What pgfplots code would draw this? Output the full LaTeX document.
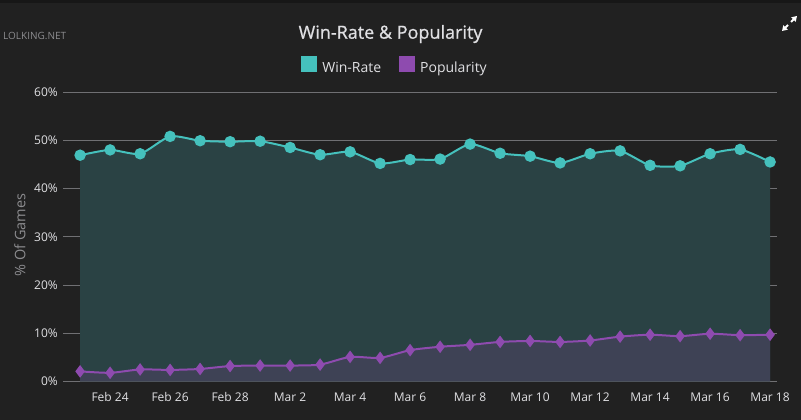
\documentclass[border=0pt]{standalone}
\usepackage{pgfplots}
\usepackage{pgfplotstable}
\pgfplotsset{compat=1.18}
\usepackage{fontspec}
\setmainfont{Open Sans}
\newfontfamily\titlefont[FakeBold=0.8]{Open Sans}
\usetikzlibrary{arrows.meta}
\definecolor{bgc}{HTML}{212121}
\definecolor{topc}{HTML}{171717}
\definecolor{gridc}{HTML}{707073}
\definecolor{wrc}{HTML}{45C1BD}
\definecolor{wrfill}{HTML}{2A4244}
\definecolor{popc}{HTML}{8E4BAF}
\definecolor{popfill}{HTML}{3E4255}
\definecolor{tickc}{HTML}{E0E0E3}
\definecolor{labc}{HTML}{8C8C8F}

\pgfplotstableread{
x y
0 46.9
1 48.0
2 47.2
3 50.8
4 49.9
5 49.7
6 49.8
7 48.5
8 47.0
9 47.6
10 45.2
11 46.0
12 46.1
13 49.2
14 47.3
15 46.7
16 45.3
17 47.2
18 47.8
19 44.8
20 44.7
21 47.2
22 48.1
23 45.5
}\winrate

\pgfplotstableread{
x y
0 2.1
1 1.8
2 2.5
3 2.4
4 2.6
5 3.2
6 3.3
7 3.3
8 3.5
9 5.1
10 4.9
11 6.5
12 7.2
13 7.6
14 8.2
15 8.4
16 8.2
17 8.5
18 9.3
19 9.7
20 9.4
21 9.9
22 9.6
23 9.7
}\popularity

\begin{document}
\begin{tikzpicture}
\useasboundingbox (0pt,0pt) rectangle (801pt,420pt);
\fill[bgc] (0pt,0pt) rectangle (801pt,420pt);
\fill[topc] (0pt,417pt) rectangle (801pt,420pt);
\node[anchor=west, font=\fontsize{10}{10}\selectfont, text=labc, inner sep=0pt] at (3pt,384.5pt) {LOLKING.NET};
\begin{axis}[
  at={(63.3pt,38.5pt)}, anchor=south west,
  scale only axis, width=713.4pt, height=289.5pt,
  xmin=-0.56, xmax=23.22, ymin=0, ymax=60,
  axis lines*=left,
  axis line style={-},
  y axis line style={draw=none},
  x axis line style={draw=gridc, line width=0.8pt},
  ymajorgrids, grid style={draw=gridc, line width=0.8pt},
  major tick length=0pt,
  ytick={0,10,20,30,40,50,60},
  yticklabels={0\%,10\%,20\%,30\%,40\%,50\%,60\%},
  xtick={1,3,5,7,9,11,13,15,17,19,21,23},
  xticklabels={Feb 24,Feb 26,Feb 28,Mar 2,Mar 4,Mar 6,Mar 8,Mar 10,Mar 12,Mar 14,Mar 16,Mar 18},
  tick label style={font=\fontsize{12}{12}\selectfont, text=tickc},
  xticklabel style={anchor=base, inner sep=0pt, yshift=-20.5pt},
  yticklabel style={anchor=base east, inner sep=0pt, xshift=-5.3pt, yshift=-4.3pt},
  ylabel={\% Of Games},
  ylabel style={at={(axis description cs:-0.0607,0.506)}, anchor=center, font=\fontsize{14.5}{14.5}\selectfont, text=labc},
  title={Win-Rate \& Popularity},
  title style={at={(axis description cs:0.4587,1.1796)}, anchor=center, font=\titlefont\fontsize{18}{18}\selectfont, text=tickc, inner sep=0pt},
  legend style={at={(axis description cs:0.465,1.0898)}, anchor=center, draw=none, fill=none, text=tickc,
    font=\fontsize{14}{14}\selectfont, legend columns=2,
    /tikz/every odd column/.append style={column sep=3pt},
    /tikz/every even column/.append style={column sep=16pt}},
  legend cell align=left,
  clip=false,
]
\addplot[draw=none, fill=wrfill, smooth, tension=0.4, forget plot] table[x=x,y=y] {\winrate} \closedcycle;
\addplot[draw=none, fill=popfill, smooth, tension=0.4, forget plot] table[x=x,y=y] {\popularity} \closedcycle;
\addplot[draw=wrc, line width=2pt, smooth, tension=0.4, mark=*, mark size=4.7pt, mark options={fill=wrc, draw=none},
  legend image code/.code={\fill[wrc] (0pt,-3pt) rectangle (14pt,11pt);}] table[x=x,y=y] {\winrate};
\addlegendentry{Win-Rate}
\addplot[draw=popc, line width=2pt, smooth, tension=0.4, mark=diamond*, mark size=4.7pt, mark options={fill=popc, draw=none},
  legend image code/.code={\fill[popc] (0pt,-3pt) rectangle (14pt,11pt);}] table[x=x,y=y] {\popularity};
\addlegendentry{Popularity}
\end{axis}
\draw[white, line width=2pt, -{Triangle[length=5pt,width=6pt]}] (791pt,398pt) -- (797pt,404pt);
\draw[white, line width=2pt, -{Triangle[length=5pt,width=6pt]}] (788pt,395pt) -- (782pt,389pt);
\end{tikzpicture}
\end{document}
